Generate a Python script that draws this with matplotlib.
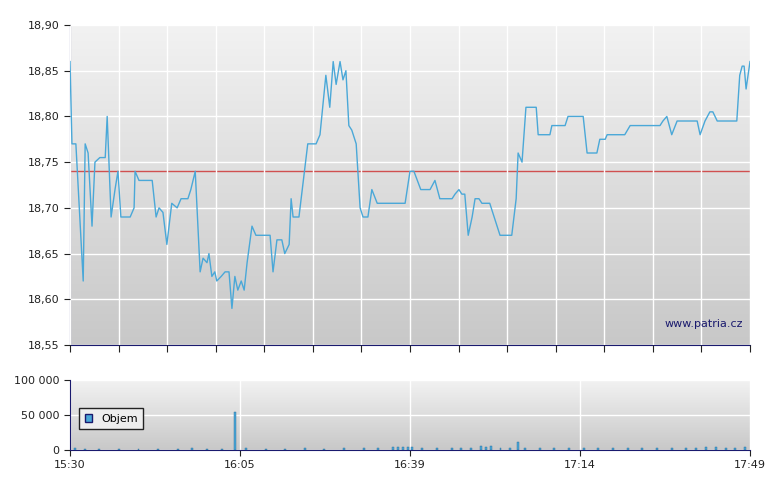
import matplotlib
matplotlib.use("Agg")
import matplotlib.pyplot as plt
import numpy as np
from matplotlib.patches import Patch

# minutes since 15:30
t = [0,0.4,1.2,2.7,3.1,3.7,4.5,5.1,6.1,7.2,7.6,8.4,9.2,9.8,10.4,12.3,13.1,13.3,14.1,16.8,17.6,18.2,19.0,19.8,20.8,21.9,22.7,24.1,24.7,25.6,26.6,27.2,28.0,28.4,29.0,29.6,30.0,30.9,31.7,32.5,33.1,33.7,34.3,35.0,35.6,36.2,37.2,38.0,39.7,40.9,41.5,42.3,43.3,43.9,44.8,45.2,45.6,46.8,48.6,50.3,51.1,52.3,53.1,53.8,54.4,55.2,55.8,56.4,57.0,57.6,58.5,59.3,59.9,60.9,61.7,62.8,68.5,69.5,70.3,71.7,73.6,74.6,75.6,78.1,78.7,79.5,80.1,80.7,81.4,82.2,82.8,83.6,84.2,85.8,87.9,90.3,91.2,91.6,92.4,93.2,95.3,95.7,98.1,98.5,101.2,101.8,104.9,105.7,107.7,108.3,109.4,109.8,113.4,114.5,120.6,121.2,122.0,123.0,124.1,128.2,128.8,129.8,130.8,131.4,132.3,136.3,136.9,137.4,137.8,138.2,139]
price = [18.86,18.77,18.77,18.62,18.77,18.76,18.68,18.75,18.755,18.755,18.80,18.69,18.72,18.74,18.69,18.69,18.70,18.74,18.73,18.73,18.69,18.70,18.695,18.66,18.705,18.70,18.71,18.71,18.72,18.74,18.63,18.645,18.64,18.65,18.625,18.63,18.62,18.625,18.63,18.63,18.59,18.625,18.61,18.62,18.61,18.64,18.68,18.67,18.67,18.67,18.63,18.665,18.665,18.65,18.66,18.71,18.69,18.69,18.77,18.77,18.78,18.845,18.81,18.86,18.835,18.86,18.84,18.85,18.79,18.785,18.77,18.70,18.69,18.69,18.72,18.705,18.705,18.74,18.74,18.72,18.72,18.73,18.71,18.71,18.715,18.72,18.715,18.715,18.67,18.69,18.71,18.71,18.705,18.705,18.67,18.67,18.71,18.76,18.75,18.81,18.81,18.78,18.78,18.79,18.79,18.80,18.80,18.76,18.76,18.775,18.775,18.78,18.78,18.79,18.79,18.795,18.80,18.78,18.795,18.795,18.78,18.795,18.805,18.805,18.795,18.795,18.845,18.855,18.855,18.83,18.86]
ref_price = 18.74

vol_t = [1,3,6,10,14,18,22,25,28,31,33.7,36,40,44,48,52,56,60,63,66,67,68,69,70,72,75,78,80,82,84,85,86,88,90,91.6,93,96,99,102,105,108,111,114,117,120,123,126,128,130,132,134,136,138]
vol = [2500,2000,2000,1500,2000,1500,2000,2500,2000,2000,55000,2500,2000,2000,2500,2000,2500,3000,3500,4000,5000,4000,5000,4000,3000,2500,3000,2500,3000,6000,5000,6000,3000,3000,12000,3000,2500,3000,2500,3000,2500,3000,2500,3000,2500,3000,3500,3000,5000,4000,3500,3000,5000]

xlabels = ["15:30","16:05","16:39","17:14","17:49"]
T = 139

fig = plt.figure(figsize=(7.8,4.9), dpi=100)
ax = fig.add_axes([70/780, 1-345/490, 680/780, 320/490])
av = fig.add_axes([70/780, 1-450/490, 680/780, 70/490])
navy = "#1a1a6e"
grad = np.linspace(0,1,256).reshape(-1,1)
from matplotlib.colors import LinearSegmentedColormap
cm = LinearSegmentedColormap.from_list("g", ["#f2f2f2", "#c8c8c8"])
for a, ylim in ((ax,(18.55,18.90)),(av,(0,100000))):
    a.imshow(grad, aspect="auto", cmap=cm, extent=[0,T,ylim[0],ylim[1]], origin="upper", zorder=0)
    a.set_xlim(0,T); a.set_ylim(*ylim)
    for s in ("top","right"): a.spines[s].set_visible(False)
    for s in ("left","bottom"): a.spines[s].set_color(navy)
    a.tick_params(labelsize=8, colors="#222222", length=4)

ax.set_yticks(np.arange(18.55,18.901,0.05))
ax.set_yticklabels([f"{v:.2f}".replace(".",",") for v in np.arange(18.55,18.901,0.05)])
xt = np.linspace(0,T,15)
ax.set_xticks(xt); ax.set_xticklabels([])
ax.tick_params(axis="x", direction="out", length=5)
ax.grid(True, color="white", linewidth=1, zorder=1)
ax.set_axisbelow(False)
ax.axhline(ref_price, color="#d05050", linewidth=1, zorder=2)
ax.plot(t, price, color="#4aa8d8", linewidth=1, zorder=3)
ax.text(0.99, 0.05, "www.patria.cz", transform=ax.transAxes, ha="right", va="bottom", fontsize=8, color="#1a1a6e")

av.set_yticks([0,50000,100000]); av.set_yticklabels(["0","50 000","100 000"])
av.set_xticks(np.linspace(0,T,5)); av.set_xticklabels(xlabels)
av.grid(True, color="white", linewidth=1, zorder=1)
av.bar(vol_t, vol, width=0.4, color="#4aa8d8", edgecolor="#2a6a9a", linewidth=0.3, zorder=3)
leg = av.legend(handles=[Patch(facecolor="#4aa8d8", edgecolor="#1a1a6e", label="Objem")], loc="center left",
                bbox_to_anchor=(0.005,0.45), fontsize=8, fancybox=False, framealpha=1, handlelength=0.7, handleheight=0.7, borderpad=0.5)
leg.get_frame().set_edgecolor("#222222")
leg.get_frame().set_facecolor("#eeeeee")
fig.savefig("out.png", dpi=100)
